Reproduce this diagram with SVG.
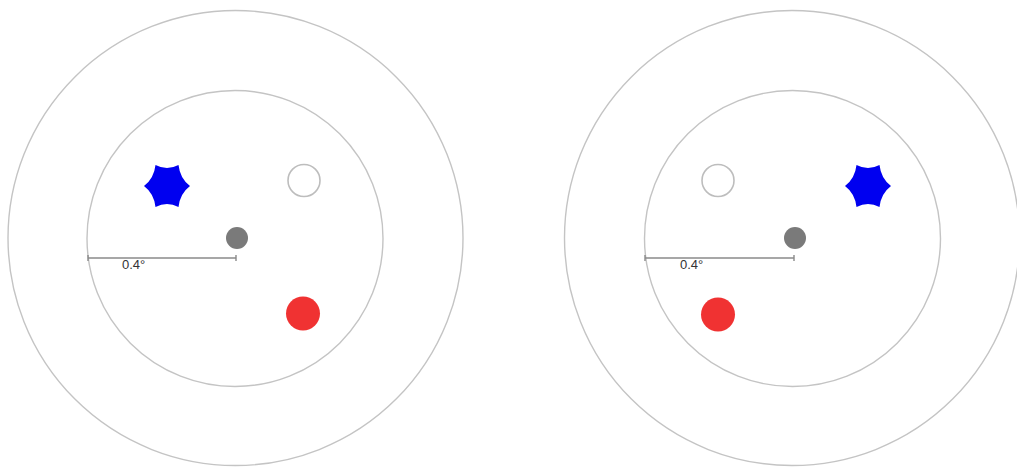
<svg xmlns="http://www.w3.org/2000/svg" xmlns:xlink="http://www.w3.org/1999/xlink" width="1017" height="468" viewBox="0 0 1017 468">
<style>
.ring{fill:none;stroke:#c4c4c4;stroke-width:1.4}
.fix{fill:#7a7a7a}
.hollow{fill:#fff;stroke:#bdbdbd;stroke-width:1.6}
.red{fill:#f03232}
.star{fill:#0000f0}
.bar{stroke:#8a8a8a;stroke-width:1.4;fill:none}
.lbl{font-family:"Liberation Sans",Arial,sans-serif;font-size:13px;fill:#333}
</style>
<defs>
<path id="star6" d="M23,0 Q13,7.5 11.5,21 Q0,15 -11.5,21 Q-13,7.5 -23,0 Q-13,-7.5 -11.5,-21 Q0,-15 11.5,-21 Q13,-7.5 23,0 Z"/>
</defs>
<rect width="1017" height="468" fill="#fff"/>
<g id="panel-left">
  <circle class="ring" cx="235.5" cy="238" r="227.5"/>
  <circle class="ring" cx="235" cy="238.5" r="148"/>
  <g id="left-star"><use xlink:href="#star6" class="star" x="167" y="186"/></g>
  <g id="left-hollow"><circle class="hollow" cx="304" cy="180.5" r="16"/></g>
  <g id="left-fix"><circle class="fix" cx="237" cy="238" r="11"/></g>
  <g id="left-red"><circle class="red" cx="303" cy="313.5" r="17"/></g>
  <g id="left-scale">
    <path class="bar" d="M88,258 H236 M88,255 V261 M236,255 V261"/>
    <text class="lbl" x="122" y="269">0.4°</text>
  </g>
</g>
<g id="panel-right">
  <circle class="ring" cx="792" cy="238" r="227.5"/>
  <circle class="ring" cx="792.5" cy="238.5" r="148"/>
  <g id="right-hollow"><circle class="hollow" cx="718" cy="180.5" r="16"/></g>
  <g id="right-star"><use xlink:href="#star6" class="star" x="868" y="186"/></g>
  <g id="right-fix"><circle class="fix" cx="795" cy="238" r="11"/></g>
  <g id="right-red"><circle class="red" cx="718" cy="314.5" r="17"/></g>
  <g id="right-scale">
    <path class="bar" d="M645,258 H794 M645,255 V261 M794,255 V261"/>
    <text class="lbl" x="680" y="269">0.4°</text>
  </g>
</g>
<g id="connectors"></g>
</svg>
